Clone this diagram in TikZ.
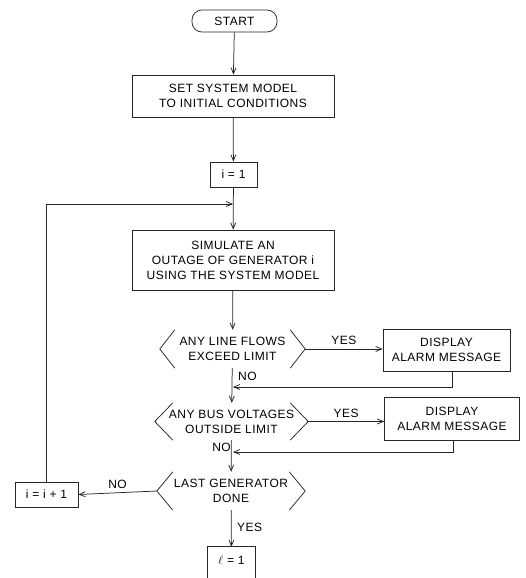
\documentclass[tikz,border=0pt]{standalone}
\usepackage{fontspec}
\setmainfont{Liberation Sans}[LetterSpace=4]
\usetikzlibrary{arrows.meta,calc}
\begin{document}
\begin{tikzpicture}[x=1pt,y=-1pt,
  every node/.style={font=\fontsize{12}{15}\selectfont, inner sep=0pt, align=center},
  line/.style={line width=0.75pt, draw=black!85},
  arr/.style={line, -{Straight Barb[length=6pt,width=5pt]}},
  proc/.style={line, draw, rectangle},
  term/.style={line, draw, rectangle, rounded corners=10pt},
  lbl/.style={font=\fontsize{12}{14}\selectfont},
]
\useasboundingbox (0,0) rectangle (525,578);
% nodes
\node[term, minimum width=85pt, minimum height=22pt] (start) at (234.5,21) {START};
\node[proc, minimum width=202pt, minimum height=42pt] (b1) at (233,96) {SET SYSTEM MODEL\\TO INITIAL CONDITIONS};
\node[proc, minimum width=47pt, minimum height=25pt] (i1) at (233.5,174.5) {i = 1};
\node[proc, minimum width=202pt, minimum height=60pt] (b2) at (233,260) {SIMULATE AN\\OUTAGE OF GENERATOR i\\USING THE SYSTEM MODEL};
\node[minimum width=145pt, minimum height=38pt] (d1) at (232.5,349) {ANY LINE FLOWS\\EXCEED LIMIT};
\node[proc, minimum width=127pt, minimum height=42pt] (a1) at (446.5,350) {DISPLAY\\ALARM MESSAGE};
\node[minimum width=153pt, minimum height=37pt] (d2) at (231.5,421.5) {ANY BUS VOLTAGES\\OUTSIDE LIMIT};
\node[proc, minimum width=135pt, minimum height=43pt] (a2) at (452,419) {DISPLAY\\ALARM MESSAGE};
\node[minimum width=148pt, minimum height=38pt] (d3) at (231,491) {LAST GENERATOR\\DONE};
\node[proc, minimum width=63pt, minimum height=25pt] (ip) at (46.5,494.5) {i = i + 1};
\node[minimum width=47pt, minimum height=26pt] (l1) at (231.5,560) {$\ell$ = 1};
% chevrons of decisions
\foreach \d/\e in {d1/15,d2/18,d3/16}{
  \draw[line] ([xshift=\e pt]\d.north west) -- (\d.west) -- ([xshift=\e pt]\d.south west);
  \draw[line] ([xshift=-\e pt]\d.north east) -- (\d.east) -- ([xshift=-\e pt]\d.south east);
}
% last box (cut off at bottom)
\draw[line] ([yshift=-20pt]l1.south west) -- (l1.north west) -- (l1.north east) -- ([yshift=-20pt]l1.south east);
% junction coordinates
\coordinate (j0) at (233,204);
\coordinate (j1) at (233,387);
\coordinate (j2) at (233,452);
% connectors
\draw[arr] (start) -- (b1);
\draw[arr] (b1) -- (i1);
\draw[arr] (i1) -- (b2);
\draw[arr] (b2) -- (d1);
\draw[arr] (d1) -- (d2);
\draw[arr] (d2) -- (d3);
\draw[arr] (d3) -- (l1);
\draw[arr] (d1.east) -- (d1.east -| a1.west) node[lbl, midway, above=4pt] {YES};
\draw[arr] (d2.east) -- (d2.east -| a2.west) node[lbl, midway, above=4pt] {YES};
\draw[arr] ([xshift=6pt]a1.south) |- (j1);
\draw[arr] ([xshift=1pt]a2.south) |- (j2);
\draw[arr] (d3.west) -- (ip.east) node[lbl, midway, above=4pt] {NO};
\draw[arr] (ip.north) |- (j0);
% branch labels
\node[lbl, anchor=west] (no1) at (238,376) {NO};
\node[lbl, anchor=east] (no2) at (231,447) {NO};
\node[lbl, anchor=west] (yes3) at (237,527) {YES};
\end{tikzpicture}
\end{document}
